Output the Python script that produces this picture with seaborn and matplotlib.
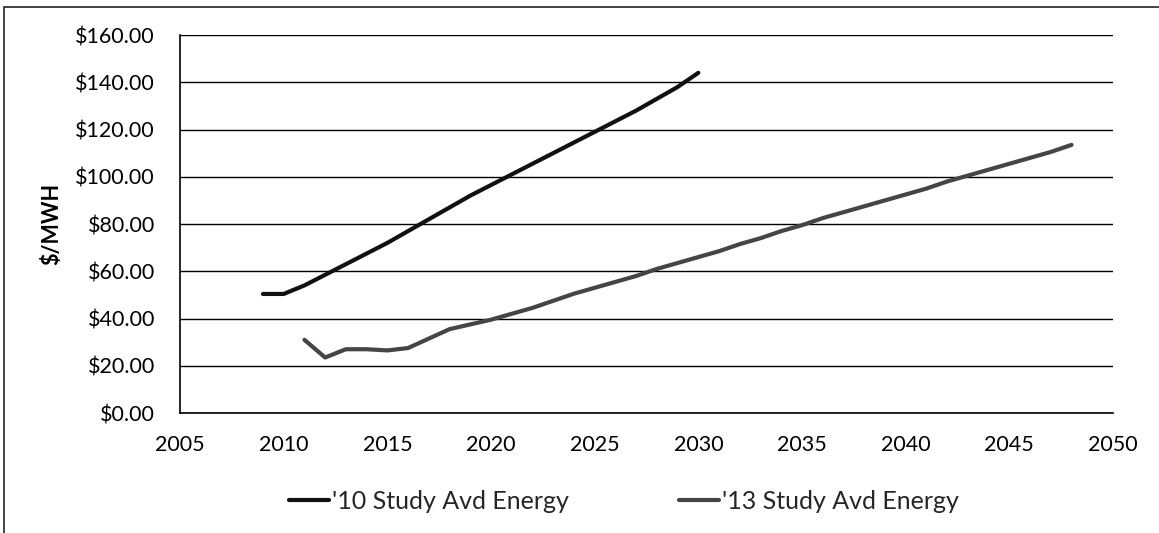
import numpy as np
import pandas as pd
import matplotlib
matplotlib.use("Agg")
import matplotlib.pyplot as plt
import seaborn as sns
from matplotlib.ticker import FuncFormatter, MultipleLocator
from matplotlib.patches import Rectangle

# Avoided energy cost forecasts ($/MWH)
years_2010_study = list(range(2009, 2031))
values_2010_study = [50.4, 50.4, 54.0, 58.5, 63.0, 67.5, 72.0, 77.0, 82.0, 87.0, 92.0,
                     96.5, 101.0, 105.5, 110.0, 114.5, 119.0, 123.5, 128.0, 133.0, 138.0, 144.0]

years_2013_study = list(range(2011, 2049))
values_2013_study = [31.0, 23.5, 27.0, 27.0, 26.5, 27.5, 31.5, 35.5, 37.5, 39.5,
                     42.0, 44.5, 47.5, 50.5, 53.0, 55.5, 58.0, 61.0, 63.5, 66.0,
                     68.5, 71.5, 74.0, 77.0, 79.5, 82.5, 85.0, 87.5, 90.0, 92.5,
                     95.0, 98.0, 100.5, 103.0, 105.5, 108.0, 110.5, 113.5]

series_labels = ["'10 Study Avd Energy", "'13 Study Avd Energy"]
series_colors = ["#111111", "#454545"]

x_ticks = list(range(2005, 2051, 5))
y_label = "$/MWH"

df = pd.concat([
    pd.DataFrame({"Year": years_2010_study, "Value": values_2010_study, "Series": series_labels[0]}),
    pd.DataFrame({"Year": years_2013_study, "Value": values_2013_study, "Series": series_labels[1]}),
], ignore_index=True)

sns.set_theme(style="white")
plt.rcParams["font.family"] = ["Lato", "DejaVu Sans"]
FS = 15.5
LEG_FS = 18.0

fig = plt.figure(figsize=(11.59, 5.33), dpi=100)
ax = fig.add_axes([0.1553, 0.2251, 0.8050, 0.7092])

sns.lineplot(data=df, x="Year", y="Value", hue="Series", hue_order=series_labels,
             palette=series_colors, linewidth=3.0, ax=ax, legend=True)

ax.set_xlim(2005, 2050)
ax.set_ylim(0, 160)
ax.set_xticks(x_ticks)
ax.yaxis.set_major_locator(MultipleLocator(20))
ax.yaxis.set_major_formatter(FuncFormatter(lambda v, p: f"${v:,.2f}"))
ax.grid(axis="y", color="black", linewidth=1.0)
ax.set_axisbelow(True)

for side in ["top", "right"]:
    ax.spines[side].set_visible(False)
for side in ["left", "bottom"]:
    ax.spines[side].set_color("black")
    ax.spines[side].set_linewidth(1.2)

ax.tick_params(axis="both", which="major", direction="out", width=1,
               color="black", labelsize=FS, labelcolor="black")
ax.tick_params(axis="y", length=6, pad=12)
ax.tick_params(axis="x", length=4.5, pad=11)
ax.set_xlabel("")
ax.set_ylabel(y_label, fontsize=FS, fontweight="bold", color="black", labelpad=9)

handles, labels = ax.get_legend_handles_labels()
ax.get_legend().remove()
fig.legend(handles, labels, loc="center", bbox_to_anchor=(0.538, 0.06), ncol=2,
           frameon=False, fontsize=LEG_FS, handlelength=1.6, handletextpad=0.12,
           columnspacing=4.4)

# outer chart border
fig.patches.append(Rectangle((4 / 1159, -0.05), 1.2, 1 - 7 / 533 + 0.05,
                             transform=fig.transFigure, fill=False,
                             edgecolor="#222222", linewidth=1.2))

fig.savefig("out.png", dpi=100, facecolor="white")
